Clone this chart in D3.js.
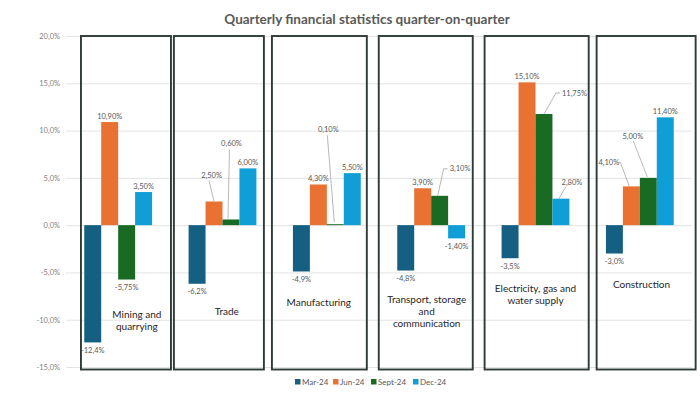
<!DOCTYPE html>
<html>
<head>
<meta charset="utf-8">
<script src="https://cdn.jsdelivr.net/npm/d3@7"></script>
<style>
  html, body { margin: 0; padding: 0; background: #fff; }
  svg { display: block; }
</style>
</head>
<body>
<div id="chart"></div>
<script>
const categories = [
  "Mining and quarrying",
  "Trade",
  "Manufacturing",
  "Transport, storage and communication",
  "Electricity, gas and water supply",
  "Construction",
];
const categoryLines = [
  ["Mining and", "quarrying"],
  ["Trade"],
  ["Manufacturing"],
  ["Transport, storage", "and", "communication"],
  ["Electricity, gas and", "water supply"],
  ["Construction"],
];
const seriesNames = ["Mar-24", "Jun-24", "Sept-24", "Dec-24"];
const mar24 = [-12.4, -6.2, -4.9, -4.8, -3.5, -3.0];
const jun24 = [10.9, 2.5, 4.3, 3.9, 15.1, 4.1];
const sept24 = [-5.75, 0.6, 0.1, 3.1, 11.75, 5.0];
const dec24 = [3.5, 6.0, 5.5, -1.4, 2.8, 11.4];
const yTicks = [20, 15, 10, 5, 0, -5, -10, -15];

const SERIES_COLORS = ["#156082", "#e97132", "#196b24", "#0f9ed5"];
const SERIES_DECIMALS = [1, 2, 2, 2];

const WIDTH = 700;
const HEIGHT = 394;
const PLOT_LEFT = 66;
const PLOT_RIGHT = 692;
const PLOT_TOP = 36;
const PLOT_BOTTOM = 367;

// hand-drawn frames around each category, offsets from the group's band start
const FRAME_OFFSETS = [
  [-3.3, 86.7], [-14.7, 75.3], [-21, 73.9], [-18.5, 75.5], [-17, 87.1], [-9.3, 89.7],
];
// caption placement: shift from band centre, y of first line
const CAPTION_DX = [18.7, 4.3, -8, -4.5, 0, 1.7];
const CAPTION_Y = [314, 311, 302, 299, 288, 284];

// labels that Excel pushed away from their bar, relative to the bar top centre
const LABEL_MOVES = {
  "1|1": { dx: -2.5, dy: -26, leader: [[-5, -21], [0, 0]] },
  "1|2": { dx: 0.5, dy: -76, leader: [[-1.5, -70], [-3, -1]] },
  "2|2": { dx: -7, dy: -95, leader: [[-8, -89], [-1, -2]] },
  "3|2": { dx: 10, dy: -27, anchor: "start", leader: [[8, -27], [4, -27], [-2, 0]] },
  "4|2": { dx: 18, dy: -21, anchor: "start", leader: [[16, -21], [12, -21], [0, 0]] },
  "4|3": { dx: 11, dy: -16, leader: [[5, -12], [-2, 0]] },
  "5|1": { dx: -22.5, dy: -24, leader: [[-14, -24], [-11, -24], [-2, 0]] },
  "5|2": { dx: -15.5, dy: -41, leader: [[-15, -37], [-1, -1]] },
};

const values = [mar24, jun24, sept24, dec24];
const fmt = (v, d) => (v < 0 ? "-" : "") + Math.abs(v).toFixed(d).replace(".", ",") + "%";

const svg = d3.select("#chart")
  .append("svg")
  .attr("width", WIDTH)
  .attr("height", HEIGHT)
  .attr("viewBox", [0, 0, WIDTH, HEIGHT]);

const x = d3.scaleBand()
  .domain(categories)
  .range([PLOT_LEFT, PLOT_RIGHT])
  .paddingInner(0.35)
  .paddingOuter(0.175);

const xSeries = d3.scaleBand()
  .domain(seriesNames)
  .range([0, x.bandwidth()]);

const y = d3.scaleLinear()
  .domain([-15, 20])
  .range([PLOT_BOTTOM, PLOT_TOP]);

// title
svg.append("text")
  .attr("x", 367)
  .attr("y", 24)
  .attr("text-anchor", "middle")
  .attr("font-family", "Lato, 'Open Sans', sans-serif")
  .attr("font-weight", 700)
  .attr("font-size", 13.5)
  .attr("fill", "#595959")
  .text("Quarterly financial statistics quarter-on-quarter");

// gridlines + y axis labels
const yAxis = svg.append("g")
  .attr("transform", `translate(${PLOT_LEFT},0)`)
  .call(
    d3.axisLeft(y)
      .tickValues(yTicks)
      .tickSize(-(PLOT_RIGHT - PLOT_LEFT))
      .tickPadding(6)
      .tickFormat((d) => (d < 0 ? "-" : "") + Math.abs(d).toFixed(1).replace(".", ",") + "%")
  );
yAxis.select(".domain").remove();
yAxis.selectAll(".tick line").attr("stroke", "#e3e3e3").attr("stroke-width", 1);
yAxis.selectAll(".tick text")
  .attr("fill", "#7f7f7f")
  .attr("font-family", "Lato, sans-serif")
  .attr("font-size", 7.5);

// frames
const framesGroup = svg.append("g").attr("class", "frames");
categories.forEach((cat, i) => {
  const [l, r] = FRAME_OFFSETS[i];
  framesGroup.append("rect")
    .attr("x", x(cat) + l)
    .attr("y", y(20))
    .attr("width", r - l)
    .attr("height", y(-15) + 2.5 - y(20))
    .attr("fill", "none")
    .attr("stroke", "#2e3b38")
    .attr("stroke-width", 1.9);
});

// bars
const barsGroup = svg.append("g").attr("class", "bars");
categories.forEach((cat, i) => {
  seriesNames.forEach((s, j) => {
    const v = values[j][i];
    barsGroup.append("rect")
      .attr("x", x(cat) + xSeries(s))
      .attr("y", y(Math.max(0, v)))
      .attr("width", xSeries.bandwidth())
      .attr("height", Math.abs(y(v) - y(0)))
      .attr("fill", SERIES_COLORS[j]);
  });
});

// data labels
const labelsGroup = svg.append("g").attr("class", "labels")
  .attr("font-family", "Lato, sans-serif")
  .attr("font-size", 7.5)
  .attr("fill", "#595959");
categories.forEach((cat, i) => {
  seriesNames.forEach((s, j) => {
    const v = values[j][i];
    const bx = x(cat) + xSeries(s) + xSeries.bandwidth() / 2;
    const by = y(v);
    const move = LABEL_MOVES[`${i}|${j}`];
    if (move) {
      labelsGroup.append("path")
        .attr("d", d3.line()(move.leader.map(([px, py]) => [bx + px, by + py])))
        .attr("fill", "none")
        .attr("stroke", "#a6a6a6")
        .attr("stroke-width", 0.8);
      labelsGroup.append("text")
        .attr("x", bx + move.dx)
        .attr("y", by + move.dy)
        .attr("dy", "0.35em")
        .attr("text-anchor", move.anchor || "middle")
        .text(fmt(v, SERIES_DECIMALS[j]));
      return;
    }
    labelsGroup.append("text")
      .attr("x", bx)
      .attr("y", v >= 0 ? by - 6 : by + 8)
      .attr("dy", "0.35em")
      .attr("text-anchor", "middle")
      .text(fmt(v, SERIES_DECIMALS[j]));
  });
});

// category captions
const captionsGroup = svg.append("g").attr("class", "captions")
  .attr("font-family", "Lato, sans-serif")
  .attr("font-size", 10)
  .attr("fill", "#262626");
categories.forEach((cat, i) => {
  const cx = x(cat) + x.bandwidth() / 2 + CAPTION_DX[i];
  categoryLines[i].forEach((line, k) => {
    captionsGroup.append("text")
      .attr("x", cx)
      .attr("y", CAPTION_Y[i] + k * 12.2)
      .attr("dy", "0.35em")
      .attr("text-anchor", "middle")
      .text(line);
  });
});

// legend
const legend = svg.append("g")
  .attr("font-family", "Lato, sans-serif")
  .attr("font-size", 8)
  .attr("fill", "#595959");
const legendX = [295, 333, 371, 413];
seriesNames.forEach((s, j) => {
  legend.append("rect")
    .attr("x", legendX[j])
    .attr("y", 379)
    .attr("width", 5.5)
    .attr("height", 5.5)
    .attr("fill", SERIES_COLORS[j]);
  legend.append("text")
    .attr("x", legendX[j] + 7)
    .attr("y", 382)
    .attr("dy", "0.35em")
    .text(s);
});
</script>
</body>
</html>
